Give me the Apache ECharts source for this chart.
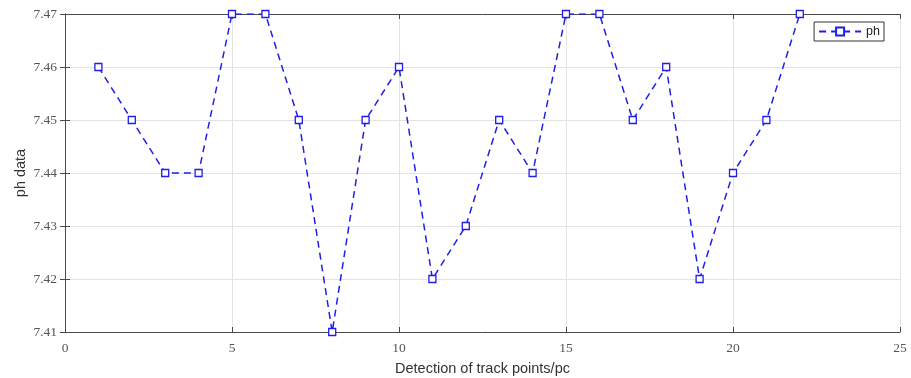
<!DOCTYPE html>
<html><head><meta charset="utf-8">
<script src="https://cdn.jsdelivr.net/npm/echarts@6/dist/echarts.min.js"></script>
<style>html,body{margin:0;padding:0;background:#fff}#c{width:911px;height:378px}</style>
</head><body><div id="c"></div>
<script>
const xValues = [1,2,3,4,5,6,7,8,9,10,11,12,13,14,15,16,17,18,19,20,21,22];
const phValues = [7.46,7.45,7.44,7.44,7.47,7.47,7.45,7.41,7.45,7.46,7.42,7.43,7.45,7.44,7.47,7.47,7.45,7.46,7.42,7.44,7.45,7.47];
const seriesName = 'ph';
const xName = 'Detection of track points/pc';
const yName = 'ph data';

const chart = echarts.init(document.getElementById('c'));
const labelFont = {fontFamily:'Liberation Serif', fontSize:13.5, color:'#555'};
const axisLine = {show:true, lineStyle:{color:'#4a4a4a', width:1}};
const tick = {show:true, inside:true, length:5, lineStyle:{color:'#4a4a4a'}};
chart.setOption({
  animation:false,
  grid:{left:65, right:11, top:14, bottom:46, show:false, containLabel:false, outerBoundsMode:'none'},
  legend:{
    data:[seriesName], right:27, top:22, orient:'horizontal',
    itemWidth:42, itemHeight:10, itemGap:4,
    borderColor:'#333', borderWidth:1, padding:[3,4,3,4],
    textStyle:{fontFamily:'Liberation Sans', fontSize:12.5, color:'#222'}, backgroundColor:'#fff'
  },
  xAxis:[{
    type:'value', min:0, max:25, interval:5,
    name:xName, nameLocation:'middle', nameGap:29, nameMoveOverlap:false,
    nameTextStyle:{fontFamily:'Liberation Sans', fontSize:14.5, color:'#333'},
    axisLine:axisLine, axisTick:tick,
    axisLabel:Object.assign({margin:9}, labelFont),
    splitLine:{show:true, lineStyle:{color:'#e3e3e3'}}
  },{
    type:'value', position:'top', min:0, max:25, interval:5,
    axisLine:axisLine, axisTick:tick, axisLabel:{show:false}, splitLine:{show:false}
  }],
  yAxis:[{
    type:'value', min:7.41, max:7.47, interval:0.01,
    name:yName, nameLocation:'middle', nameGap:37, nameMoveOverlap:false,
    nameTextStyle:{fontFamily:'Liberation Sans', fontSize:14.5, color:'#333'},
    axisLine:axisLine, axisTick:tick,
    axisLabel:Object.assign({margin:8, formatter:v=>v.toFixed(2)}, labelFont),
    splitLine:{show:true, lineStyle:{color:'#e3e3e3'}}
  },{
    type:'value', position:'right', min:7.41, max:7.47, interval:0.01,
    axisLine:axisLine, axisTick:tick, axisLabel:{show:false}, splitLine:{show:false}
  }],
  series:[{
    name:seriesName, type:'line',
    data:xValues.map((x,i)=>[x, phValues[i]]),
    symbol:'rect', symbolSize:7,
    itemStyle:{color:'#fff', borderColor:'#1f1fe6', borderWidth:1.3},
    lineStyle:{color:'#1f1fe6', width:1.5, type:[7,5]},
    emphasis:{disabled:true}
  }]
});
</script></body></html>
